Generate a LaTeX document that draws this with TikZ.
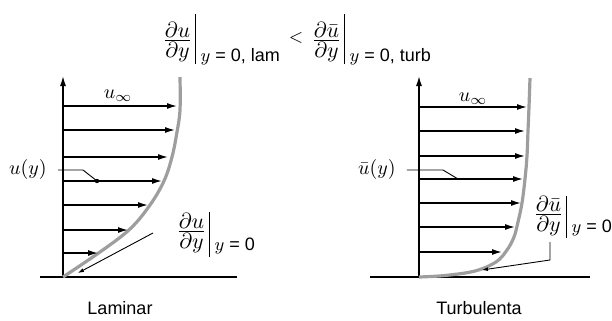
\documentclass[tikz,border=0pt]{standalone}
\usepackage{amsmath}
\usepackage{fontspec}
\setmainfont{Liberation Sans}
\usetikzlibrary{arrows.meta}

\definecolor{cinzaperfil}{gray}{0.62}

% derivada na parede: variavel, sufixo, altura e profundidade da barra, descida do indice
\newcommand{\derivy}[5]{%
  \mbox{\fontsize{10.5}{12}\selectfont
    $\frac{\textstyle\partial #1}{\textstyle\partial y}$}\hspace{1pt}%
  \vrule width 0.5pt height #3 depth #4\hspace{2.5pt}%
  \raisebox{-#5}{$y$ = 0#2}}

\begin{document}
\begin{tikzpicture}[x=0.5pt, y=-0.5pt,
    every node/.style={font=\fontsize{9}{10}\selectfont},
    eixo/.style={line width=0.7pt},
    perfil/.style={draw=cinzaperfil, line width=1.6pt},
    vel/.style={line width=0.7pt, -{Latex[length=5pt,width=3pt]}},
    guia/.style={line width=0.45pt},
    deriv/.style={inner sep=0pt, anchor=base west}]
  \useasboundingbox (0,0) rectangle (612,321);

  % Comparacao
  \node[deriv] (eqlam) at (162,46) {\derivy{u}{, lam}{16pt}{9pt}{8pt}};
  \node[inner sep=0pt] (menor) at (296,38) {$<$};
  \node[deriv] (eqturb) at (311,46) {\derivy{\bar u}{, turb}{16pt}{9pt}{8pt}};

  % Laminar
  \coordinate (origL) at (63,277);
  \coordinate (topoL) at (63,76);
  \coordinate (chaoLa) at (40,277);
  \coordinate (chaoLb) at (237,277);
  \draw[eixo] (chaoLa) -- (chaoLb);
  \draw[eixo,-{Latex[length=5pt,width=3pt]}] (origL) -- (topoL);
  \draw[perfil] plot[smooth, tension=0.6] coordinates {(63,277) (100,252) (130,229)
    (150,205) (164,181) (172,157) (177,132) (180,110) (180,77)};
  \foreach \yy/\xx [count=\i] in {106/177,130/175,157/168,181/162,205/148,230/128,253/98}{
    \coordinate (vLa\i) at (63,\yy);
    \coordinate (vLb\i) at (\xx,\yy);
    \draw[vel] (vLa\i) -- (vLb\i);
  }
  \node (uinfL) at (118,96) {\fontsize{10}{12}\selectfont$u_\infty$};
  \node (uy) at (28,170) {\fontsize{10}{12}\selectfont$u(y)$};
  \coordinate (uyk) at (83,170);
  \coordinate (uyp) at (97,181);
  \draw[guia, shorten <=2pt] (uy.east) -- (uyk) -- (uyp);
  \fill (uyp) circle (2.2);
  \coordinate (tgA) at (153,233);
  \coordinate (tgB) at (78,273);
  \draw[guia, -{Latex[length=3pt,width=2pt]}] (tgA) -- (tgB);
  \node[deriv] (dlam) at (176,237) {\derivy{u}{}{12.5pt}{10pt}{6.5pt}};
  \node (tlam) at (120,308) {Laminar};

  % Turbulenta
  \coordinate (origT) at (419,277);
  \coordinate (topoT) at (419,76);
  \coordinate (chaoTa) at (370,277);
  \coordinate (chaoTb) at (590,277);
  \draw[eixo] (chaoTa) -- (chaoTb);
  \draw[eixo,-{Latex[length=5pt,width=3pt]}] (origT) -- (topoT);
  \draw[perfil] plot[smooth, tension=0.6] coordinates {(419,277) (445,275.5) (475,271)
    (496,262) (507,250) (514,237) (518,222) (522,203) (525,179) (527,156) (528,131)
    (529,107) (530,78)};
  \foreach \yy/\xx [count=\i] in {107/527,131/525,156/525,179/523,203/521,227/515,252/502}{
    \coordinate (vTa\i) at (419,\yy);
    \coordinate (vTb\i) at (\xx,\yy);
    \draw[vel] (vTa\i) -- (vTb\i);
  }
  \node (uinfT) at (473,99) {\fontsize{10}{12}\selectfont$u_\infty$};
  \node (uby) at (377,170) {\fontsize{10}{12}\selectfont$\bar u(y)$};
  \coordinate (ubyk) at (443,170);
  \coordinate (ubyp) at (458,179);
  \draw[guia, shorten <=2pt] (uby.east) -- (ubyk) -- (ubyp);
  \fill (ubyp) circle (1.2);
  \node[deriv] (dturb) at (533,220) {\derivy{\bar u}{}{12pt}{9pt}{6pt}};
  \coordinate (dtA) at (550,242);
  \coordinate (dtK) at (550,260);
  \coordinate (dtP) at (482,270);
  \draw[guia, -{Latex[length=3pt,width=2pt]}] (dtA) -- (dtK) -- (dtP);
  \node (tturb) at (479,308) {Turbulenta};
\end{tikzpicture}
\end{document}
